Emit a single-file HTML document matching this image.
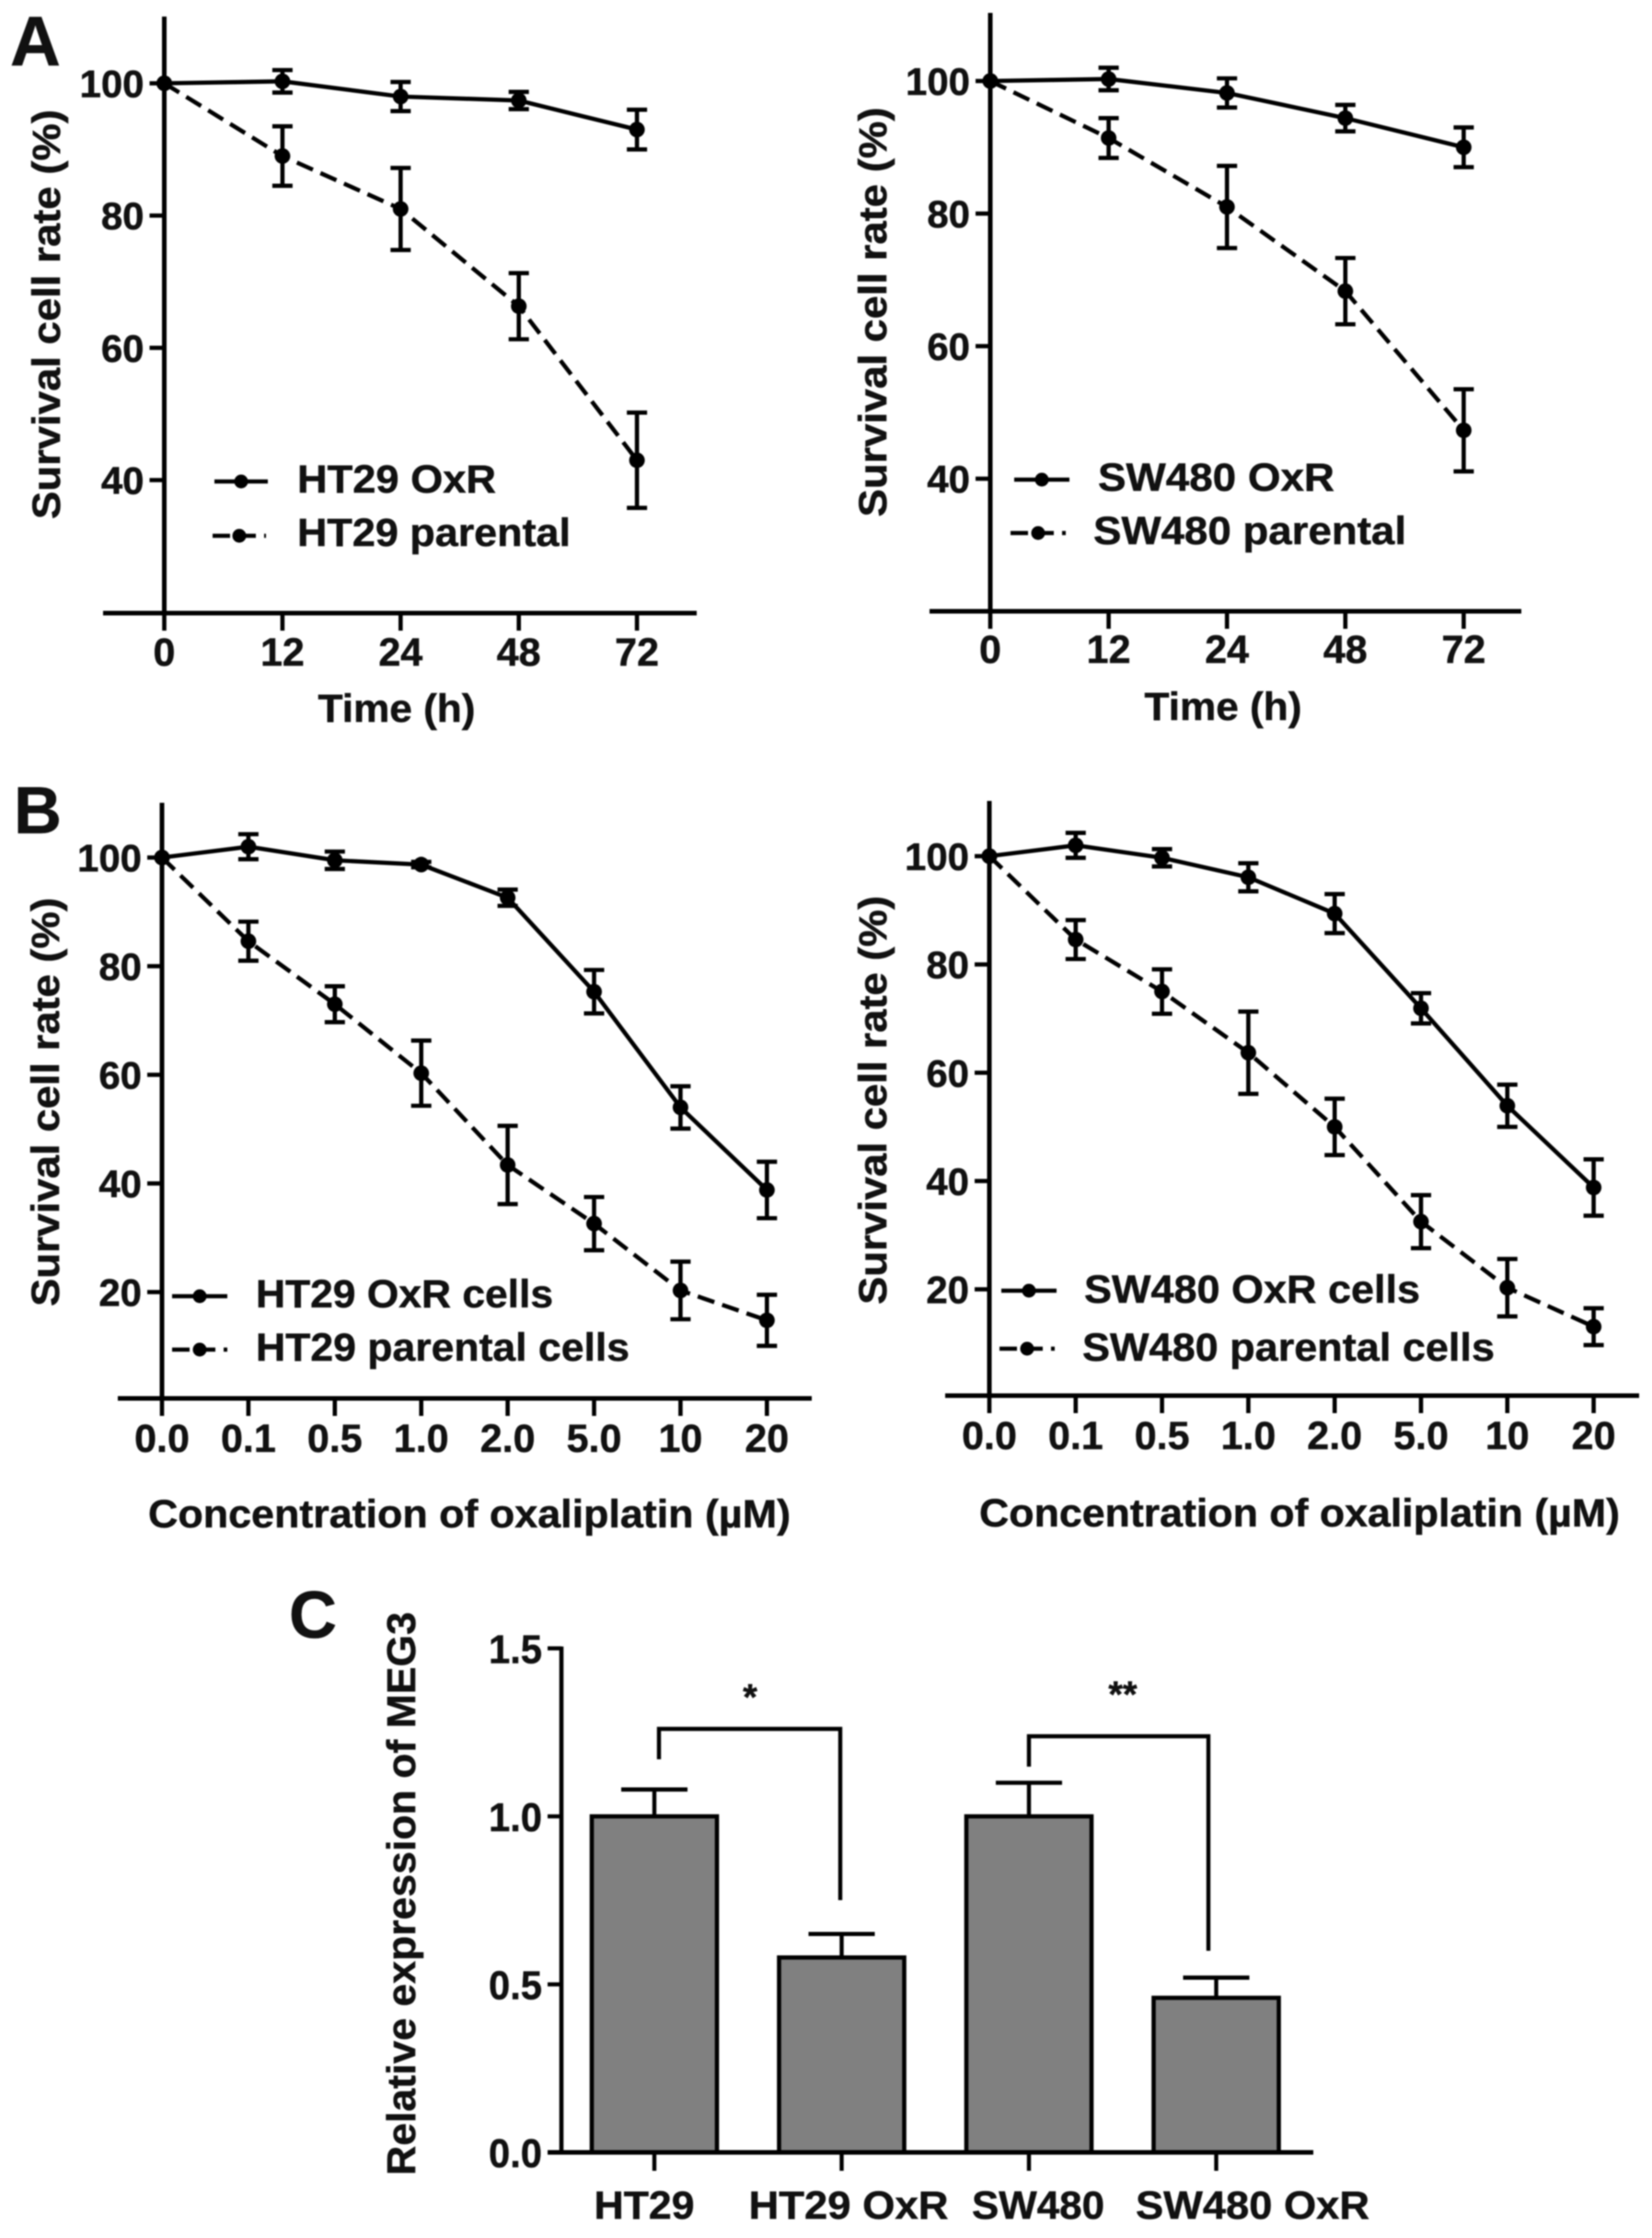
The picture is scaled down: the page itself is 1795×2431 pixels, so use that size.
<!DOCTYPE html>
<html lang="en">
<head>
<meta charset="utf-8">
<title>Survival and MEG3 expression charts</title>
<style>
html,body{margin:0;padding:0;background:#fff;}
#figure{display:block;width:1795px;height:2431px;filter:blur(0.8px);}
text{font-family:"Liberation Sans",Arial,sans-serif;font-weight:bold;fill:#111;stroke:#111;stroke-width:0.5px;}
</style>
</head>
<body>
<svg id="figure" xmlns="http://www.w3.org/2000/svg" width="1795" height="2431" viewBox="0 0 1795 2431"></svg>
<script>
// ---- Data ----
const timeCategories = ['0','12','24','48','72'];
const doseCategories = ['0.0','0.1','0.5','1.0','2.0','5.0','10','20'];
const timeYTicks = [40,60,80,100];
const doseYTicks = [20,40,60,80,100];

const a1OxrValues = [100,100.3,98,97.4,93];
const a1OxrErrors = [0,1.7,2.2,1.3,3];
const a1ParentalValues = [100,89,81,66.3,43];
const a1ParentalErrors = [0,4.5,6.2,5,7.2];

const a2OxrValues = [100,100.3,98.2,94.4,90];
const a2OxrErrors = [0,1.7,2.2,2,3];
const a2ParentalValues = [100,91.4,81,68.3,47.3];
const a2ParentalErrors = [0,3,6.2,5,6.2];

const b1OxrValues = [100,102,99.5,98.7,92.6,75.3,54,38.8];
const b1OxrErrors = [0,2.3,1.6,0.5,1.5,4,3.9,5.2];
const b1ParentalValues = [100,84.6,73,60.3,43.4,32.6,20.3,14.8];
const b1ParentalErrors = [0,3.6,3.3,6,7.2,4.9,5.3,4.7];

const b2OxrValues = [100,102,99.7,96.1,89.4,71.9,53.9,38.8];
const b2OxrErrors = [0,2.3,1.6,2.6,3.6,2.8,3.9,5.2];
const b2ParentalValues = [100,84.6,75,63.7,50,32.5,20.3,13.1];
const b2ParentalErrors = [0,3.6,4.1,7.6,5.2,4.9,5.3,3.4];

const barCategories = ['HT29','HT29 OxR','SW480','SW480 OxR'];
const barValues = [1.0,0.58,1.0,0.46];
const barErrors = [0.08,0.07,0.10,0.06];
const barYTicks = ['0.0','0.5','1.0','1.5'];

// ---- Helpers ----
const SVG_NS = 'http://www.w3.org/2000/svg';
const root = document.getElementById('figure');

function node(parent, tag, name, attrs) {
  const el = document.createElementNS(SVG_NS, tag);
  
  
  for (const k in attrs) el.setAttribute(k, attrs[k]);
  parent.appendChild(el);
  return el;
}
function seg(parent, name, x1, y1, x2, y2, w, dash) {
  const a = {x1:x1, y1:y1, x2:x2, y2:y2, stroke:'#000', 'stroke-width':w};
  if (dash) a['stroke-dasharray'] = dash;
  return node(parent, 'line', name, a);
}
function label(parent, name, str, x, y, size, anchor, len) {
  const a = {x:x, y:y, 'font-size':size, 'text-anchor':anchor || 'start'};
  if (len) { a.textLength = len; a.lengthAdjust = 'spacingAndGlyphs'; }
  const t = node(parent, 'text', name, a);
  t.textContent = str;
  return t;
}

function drawSeries(g, slug, values, errors, xf, yf, dash) {
  const s = node(g, 'g', slug + '-series', {});
  const pts = values.map((v, i) => xf(i) + ',' + yf(v)).join(' ');
  const lineAttrs = {points:pts, fill:'none', stroke:'#000', 'stroke-width':4.6};
  if (dash) lineAttrs['stroke-dasharray'] = dash;
  node(s, 'polyline', slug + '-line', lineAttrs);
  values.forEach((v, i) => {
    const x = xf(i);
    if (errors[i] > 0) {
      const hi = yf(v + errors[i]), lo = yf(v - errors[i]);
      seg(s, slug + '-error-bar', x, hi, x, lo, 4.6);
      seg(s, slug + '-error-cap-upper', x - 11, hi, x + 11, hi, 4.6);
      seg(s, slug + '-error-cap-lower', x - 11, lo, x + 11, lo, 4.6);
    }
    node(s, 'circle', slug + '-point', {cx:x, cy:yf(v), r:8.5, fill:'#000'});
  });
}

function drawLinePanel(p) {
  const g = node(root, 'g', p.slug + '-chart', {});
  const xf = i => p.x0 + i * p.step;
  const yf = v => p.yHigh + (p.vHigh - v) * (p.yLow - p.yHigh) / (p.vHigh - p.vLow);

  drawSeries(g, p.slug + '-parental', p.parental, p.parentalErr, xf, yf, '19 9');
  drawSeries(g, p.slug + '-oxr', p.oxr, p.oxrErr, xf, yf, null);

  seg(g, 'y-axis', p.x0, p.top, p.x0, p.bottom + 2, 5);
  seg(g, 'x-axis', p.axisL, p.bottom, p.axisR, p.bottom, 5);

  p.yTicks.forEach(v => {
    seg(g, 'y-tick', p.x0 - 16, yf(v), p.x0, yf(v), 4.6);
    label(g, 'y-tick-label', String(v), p.x0 - 22, yf(v) + 15, 42, 'end', 70 * String(v).length / 3);
  });
  p.cats.forEach((c, i) => {
    seg(g, 'x-tick', xf(i), p.bottom, xf(i), p.bottom + 19, 4.6);
    label(g, 'x-tick-label', c, xf(i), p.tickBase, p.tickSize, 'middle');
  });

  const yl = label(g, 'y-axis-title', 'Survival cell rate (%)', p.yLabX, p.yLabC, 43, 'middle', p.yLabLen);
  yl.setAttribute('transform', 'rotate(-90 ' + p.yLabX + ' ' + p.yLabC + ')');
  label(g, 'x-axis-title', p.xTitle, p.xLabC, p.xLabBase, 43, 'middle', p.xLabLen);

  p.legend.forEach(e => {
    const le = node(g, 'g', 'legend-entry', {});
    seg(le, 'legend-line', e.x1, e.y, e.x2, e.y, 4.6, e.dash ? '19 9' : null);
    node(le, 'circle', 'legend-marker', {cx:(e.x1 + e.x2) / 2, cy:e.y, r:7.5, fill:'#000'});
    label(le, 'legend-label', e.text, e.tx, e.tb, 43, 'start', e.tlen);
  });
}

// ---- Panels A ----
drawLinePanel({slug:'a-ht29', cats:timeCategories, yTicks:timeYTicks,
  oxr:a1OxrValues, oxrErr:a1OxrErrors, parental:a1ParentalValues, parentalErr:a1ParentalErrors,
  x0:178.5, step:128.4, vHigh:100, vLow:40, yHigh:90.5, yLow:521.5, top:18, bottom:666, axisL:112, axisR:757,
  tickBase:723, tickSize:43, yLabX:65, yLabC:341.5, yLabLen:445, xTitle:'Time (h)', xLabC:431, xLabBase:784, xLabLen:171,
  legend:[
    {x1:233,x2:291,y:523,dash:false,text:'HT29 OxR',tx:323,tb:535,tlen:216},
    {x1:231,x2:289,y:582,dash:true,text:'HT29 parental',tx:323,tb:593,tlen:297}
  ]});
drawLinePanel({slug:'a-sw480', cats:timeCategories, yTicks:timeYTicks,
  oxr:a2OxrValues, oxrErr:a2OxrErrors, parental:a2ParentalValues, parentalErr:a2ParentalErrors,
  x0:1076, step:128.6, vHigh:100, vLow:40, yHigh:88, yLow:520, top:14, bottom:664, axisL:1010, axisR:1653,
  tickBase:720, tickSize:43, yLabX:963, yLabC:339, yLabLen:445, xTitle:'Time (h)', xLabC:1329, xLabBase:782, xLabLen:171,
  legend:[
    {x1:1102,x2:1162,y:521,dash:false,text:'SW480 OxR',tx:1193,tb:533,tlen:257},
    {x1:1098,x2:1158,y:579,dash:true,text:'SW480 parental',tx:1188,tb:591,tlen:340}
  ]});

// ---- Panels B ----
drawLinePanel({slug:'b-ht29', cats:doseCategories, yTicks:doseYTicks,
  oxr:b1OxrValues, oxrErr:b1OxrErrors, parental:b1ParentalValues, parentalErr:b1ParentalErrors,
  x0:176, step:93.9, vHigh:100, vLow:20, yHigh:931.5, yLow:1403.5, top:872, bottom:1519, axisL:128, axisR:882,
  tickBase:1577, tickSize:43, yLabX:64, yLabC:1197, yLabLen:444, xTitle:'Concentration of oxaliplatin (\u00b5M)', xLabC:510, xLabBase:1659, xLabLen:698,
  legend:[
    {x1:187,x2:247,y:1408,dash:false,text:'HT29 OxR cells',tx:278,tb:1420,tlen:323},
    {x1:187,x2:247,y:1466,dash:true,text:'HT29 parental cells',tx:278,tb:1478,tlen:406}
  ]});
drawLinePanel({slug:'b-sw480', cats:doseCategories, yTicks:doseYTicks,
  oxr:b2OxrValues, oxrErr:b2OxrErrors, parental:b2ParentalValues, parentalErr:b2ParentalErrors,
  x0:1075, step:93.8, vHigh:100, vLow:20, yHigh:930, yLow:1400.5, top:870, bottom:1516, axisL:1027, axisR:1781,
  tickBase:1574, tickSize:43, yLabX:963, yLabC:1195, yLabLen:444, xTitle:'Concentration of oxaliplatin (\u00b5M)', xLabC:1412, xLabBase:1658, xLabLen:696,
  legend:[
    {x1:1088,x2:1148,y:1402,dash:false,text:'SW480 OxR cells',tx:1178,tb:1415,tlen:365},
    {x1:1086,x2:1146,y:1465,dash:true,text:'SW480 parental cells',tx:1176,tb:1478,tlen:448}
  ]});

// ---- Panel C ----
(function drawBars() {
  const g = node(root, 'g', 'c-meg3-chart', {});
  const axisX = 610, base = 2338, unit = 365;
  const yf = v => base - v * unit;
  const xf = i => 711 + i * 203.5;
  const half = 68;

  barValues.forEach((v, i) => {
    const top = yf(v) , x = xf(i), errTop = yf(v + barErrors[i]);
    seg(g, 'bar-error-stem', x, errTop, x, top, 4.4);
    seg(g, 'bar-error-cap', x - 36, errTop, x + 36, errTop, 4.6);
    node(g, 'rect', 'bar-' + barCategories[i].toLowerCase().replace(' ', '-'), {
      x:x - half, y:top, width:half * 2, height:base - top, fill:'#808080', stroke:'#000', 'stroke-width':4.6
    });
    seg(g, 'x-tick', x, base, x, base + 20, 4.4);
    label(g, 'x-tick-label', barCategories[i], [700, 922, 1128, 1361][i], 2410, 43, 'middle', [109, 217, 144, 254][i]);
  });

  seg(g, 'y-axis', axisX, yf(1.5) - 2, axisX, base, 4.6);
  seg(g, 'x-axis', 595, base, 1427, base, 5);
  barYTicks.forEach(t => {
    const v = parseFloat(t);
    seg(g, 'y-tick', 595, yf(v), axisX, yf(v), 4.4);
    label(g, 'y-tick-label', t, 589, yf(v) + 16, 44, 'end', 58);
  });

  const yl = label(g, 'y-axis-title', 'Relative expression of MEG3', 451, 2057, 44, 'middle', 612);
  yl.setAttribute('transform', 'rotate(-90 451 2057)');

  node(g, 'polyline', 'significance-bracket-ht29', {points:'716,1911 716,1878 913,1878 913,2064', fill:'none', stroke:'#000', 'stroke-width':4.4});
  node(g, 'polyline', 'significance-bracket-sw480', {points:'1118,1919 1118,1886 1313,1886 1313,2119', fill:'none', stroke:'#000', 'stroke-width':4.4});
  label(g, 'significance-star-ht29', '*', 815, 1857, 40, 'middle');
  label(g, 'significance-star-sw480', '**', 1220, 1854, 40, 'middle');
})();

// ---- Panel letters ----
label(root, 'panel-label-a', 'A', 11, 71, 76);
label(root, 'panel-label-b', 'B', 15, 905, 72);
label(root, 'panel-label-c', 'C', 314, 1779, 72);
</script>
</body>
</html>
